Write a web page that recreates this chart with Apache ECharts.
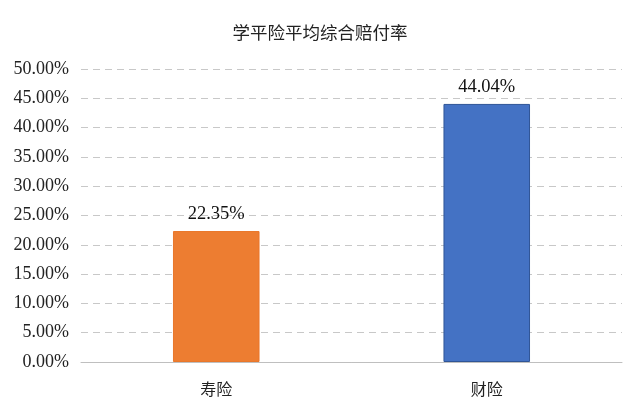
<!DOCTYPE html>
<html>
<head>
<meta charset="utf-8">
<script src="https://cdn.jsdelivr.net/npm/echarts@6/dist/echarts.min.js"></script>
<style>
html,body{margin:0;padding:0;background:#fff;}
#main{width:640px;height:417px;}
</style>
</head>
<body>
<div id="main"></div>
<script>
const title = "学平险平均综合赔付率";
const categories = ["寿险", "财险"];
const values = [22.35, 44.04];
const barColors = ["#ED7D31", "#4472C4"];
const barBorders = ["#E9772B", "#2F5597"];

const chart = echarts.init(document.getElementById('main'));
chart.setOption({
  animation: false,
  backgroundColor: '#fff',
  title: {
    text: title,
    left: 'center',
    top: 19,
    textStyle: {fontFamily: 'Noto Sans CJK SC', fontSize: 17.5, fontWeight: 'normal', color: '#222'}
  },
  grid: {left: 81, right: 18, top: 69, bottom: 55},
  xAxis: {
    type: 'category',
    data: categories,
    axisLine: {lineStyle: {color: '#bfbfbf', width: 1}},
    axisTick: {show: false},
    axisLabel: {fontFamily: 'Noto Sans CJK SC', fontSize: 16, color: '#222', margin: 19}
  },
  yAxis: {
    type: 'value',
    min: 0, max: 50, interval: 5,
    axisLine: {show: false},
    axisTick: {show: false},
    splitLine: {lineStyle: {color: '#c8c8c8', type: [7, 5], width: 1}},
    axisLabel: {
      fontFamily: 'Liberation Serif', fontSize: 18, color: '#222', margin: 12,
      formatter: v => v.toFixed(2) + '%'
    }
  },
  series: [{
    type: 'bar',
    barWidth: '32%',
    data: values.map((v, i) => ({
      value: v,
      itemStyle: {color: barColors[i], borderColor: barBorders[i], borderWidth: 1}
    })),
    label: {
      show: true, position: 'top', distance: 7,
      fontFamily: 'Liberation Serif', fontSize: 18.5, color: '#111',
      formatter: p => p.value.toFixed(2) + '%'
    }
  }]
});
</script>
</body>
</html>
